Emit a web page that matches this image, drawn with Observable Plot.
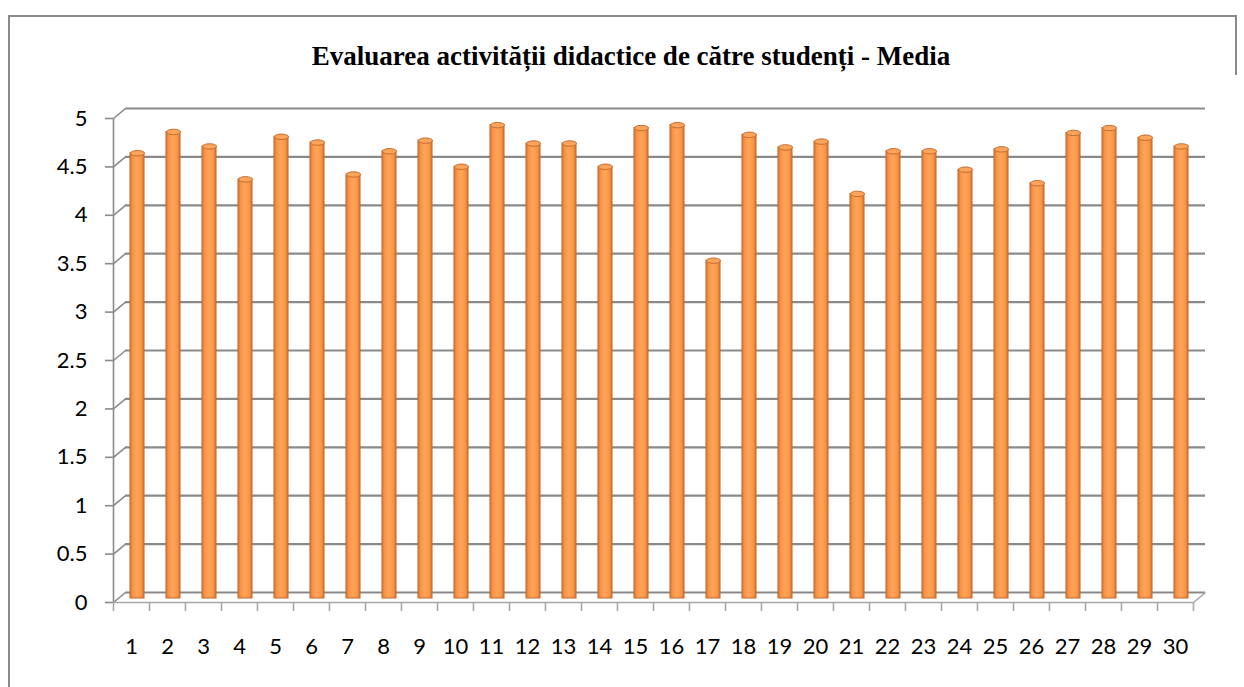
<!DOCTYPE html>
<html>
<head>
<meta charset="utf-8">
<script src="https://cdn.jsdelivr.net/npm/d3@7"></script>
<script src="https://cdn.jsdelivr.net/npm/@observablehq/plot@0.6"></script>
<style>
  html, body { margin: 0; padding: 0; background: #fff; }
  body { width: 1244px; height: 687px; overflow: hidden; position: relative; font-family: Lato, sans-serif; }
  #title { position: relative; height: 85px; box-sizing: border-box; padding-top: 43px; padding-left: 18px;
           line-height: 27px; text-align: center; font-family: "Liberation Serif", serif; font-weight: bold;
           font-size: 27px; color: #000; white-space: nowrap; }
  #chart { position: relative; }
  #frame { position: absolute; left: 8px; top: 15px; width: 1228px; height: 720px; box-sizing: border-box;
           border-left: 2px solid #8a8a8a; border-top: 2px solid #8a8a8a; pointer-events: none; z-index: 2; }
  #rframe { position: absolute; left: 1235px; top: 15px; width: 0; height: 60px; border-left: 2px solid #8a8a8a;
            pointer-events: none; z-index: 2; }
</style>
</head>
<body>
<div id="title">Evaluarea activității didactice de către studenți - Media</div>
<div id="chart"></div>
<div id="frame"></div>
<div id="rframe"></div>
<script>
// ---- data ----
const categories = [1, 2, 3, 4, 5, 6, 7, 8, 9, 10, 11, 12, 13, 14, 15, 16, 17, 18, 19, 20, 21, 22, 23, 24, 25, 26, 27, 28, 29, 30];
const values = [4.60, 4.82, 4.67, 4.33, 4.77, 4.71, 4.38, 4.62, 4.73, 4.46,
                4.89, 4.70, 4.70, 4.46, 4.86, 4.89, 3.49, 4.79, 4.66, 4.72,
                4.18, 4.62, 4.62, 4.43, 4.64, 4.29, 4.81, 4.86, 4.76, 4.67];
const yTicks = [0, 0.5, 1, 1.5, 2, 2.5, 3, 3.5, 4, 4.5, 5];
const yTickLabels = ["0", "0.5", "1", "1.5", "2", "2.5", "3", "3.5", "4", "4.5", "5"];

const data = categories.map((k, i) => ({k, v: values[i]}));
const xTickPositions = [0.5, ...categories.map(k => k + 0.5)];
const halfWidth = 0.195;

// custom symbols
const ellipseSym = {
  draw(ctx) {
    const rx = 7, ry = 2.7, c = 0.5523;
    ctx.moveTo(-rx, 0);
    ctx.bezierCurveTo(-rx, -ry * c, -rx * c, -ry, 0, -ry);
    ctx.bezierCurveTo(rx * c, -ry, rx, -ry * c, rx, 0);
    ctx.bezierCurveTo(rx, ry * c, rx * c, ry, 0, ry);
    ctx.bezierCurveTo(-rx * c, ry, -rx, ry * c, -rx, 0);
    ctx.closePath();
  }
};
const depthSym = {
  draw(ctx) { ctx.moveTo(0, 0); ctx.lineTo(12, -10); }
};

const gridColor = "#8a8a8a";

const chart = Plot.plot({
  width: 1244,
  height: 602,
  marginLeft: 113,
  marginRight: 51,
  marginTop: 33,
  marginBottom: 85,
  x: {domain: [0.5, 30.5]},
  y: {domain: [0, 5]},
  style: {fontFamily: "Lato, sans-serif", background: "transparent", overflow: "visible", color: "#000"},
  marks: [
    // back wall gridlines
    Plot.ruleY(yTicks, {x1: 0.5, x2: 30.5, dx: 12, dy: -10, stroke: gridColor, strokeWidth: 2.2}),
    // left side-wall depth connectors
    Plot.dot(yTicks, {x: 0.5, y: d => d, symbol: depthSym, fill: "none", stroke: gridColor, strokeWidth: 1.6}),
    // right floor depth connector
    Plot.dot([0], {x: 30.5, y: d => d, symbol: depthSym, fill: "none", stroke: "#a8a8a8", strokeWidth: 1.6}),
    // front floor edge
    Plot.ruleY([0], {x1: 0.5, x2: 30.5, stroke: "#a8a8a8", strokeWidth: 1.6}),
    // front vertical axis
    Plot.ruleX([0.5], {y1: 0, y2: 5, stroke: gridColor, strokeWidth: 1.6}),
    // y axis
    Plot.axisY(yTicks, {tickSize: 8, tickPadding: 18, fontSize: 22, label: null,
      tickFormat: d => yTickLabels[yTicks.indexOf(d)], stroke: gridColor, fill: "#000", strokeWidth: 1.6}),
    // x axis ticks (between categories)
    Plot.axisX(xTickPositions, {tickSize: 9, tickFormat: () => "", label: null, stroke: "#a8a8a8", strokeWidth: 1.6}),
    // x axis labels
    Plot.axisX(categories, {tickSize: 0, tickPadding: 36, fontSize: 22, label: null, fill: "#000",
      tickFormat: d => String(d)}),
    // bars (cylinders)
    Plot.rectY(data, {x1: d => d.k - halfWidth, x2: d => d.k + halfWidth, y1: 0, y2: "v", dx: 6, dy: -4,
      fill: "url(#cyl)", stroke: "#c4692c", strokeWidth: 1}),
    // cylinder tops
    Plot.dot(data, {x: "k", y: "v", dx: 6, dy: -4, symbol: ellipseSym, fill: "#fba45c", stroke: "#c4692c", strokeWidth: 1})
  ]
});

// gradient for the cylinder shading
const svgNS = "http://www.w3.org/2000/svg";
const defs = document.createElementNS(svgNS, "defs");
const grad = document.createElementNS(svgNS, "linearGradient");
grad.setAttribute("id", "cyl");
grad.setAttribute("x1", "0"); grad.setAttribute("x2", "1");
grad.setAttribute("y1", "0"); grad.setAttribute("y2", "0");
[["0%", "#de7632"], ["22%", "#f8974a"], ["50%", "#ffa457"], ["80%", "#f8964a"], ["100%", "#d8712d"]].forEach(([o, c]) => {
  const s = document.createElementNS(svgNS, "stop");
  s.setAttribute("offset", o); s.setAttribute("stop-color", c);
  grad.appendChild(s);
});
defs.appendChild(grad);
chart.insertBefore(defs, chart.firstChild);

document.getElementById("chart").appendChild(chart);
</script>
</body>
</html>
